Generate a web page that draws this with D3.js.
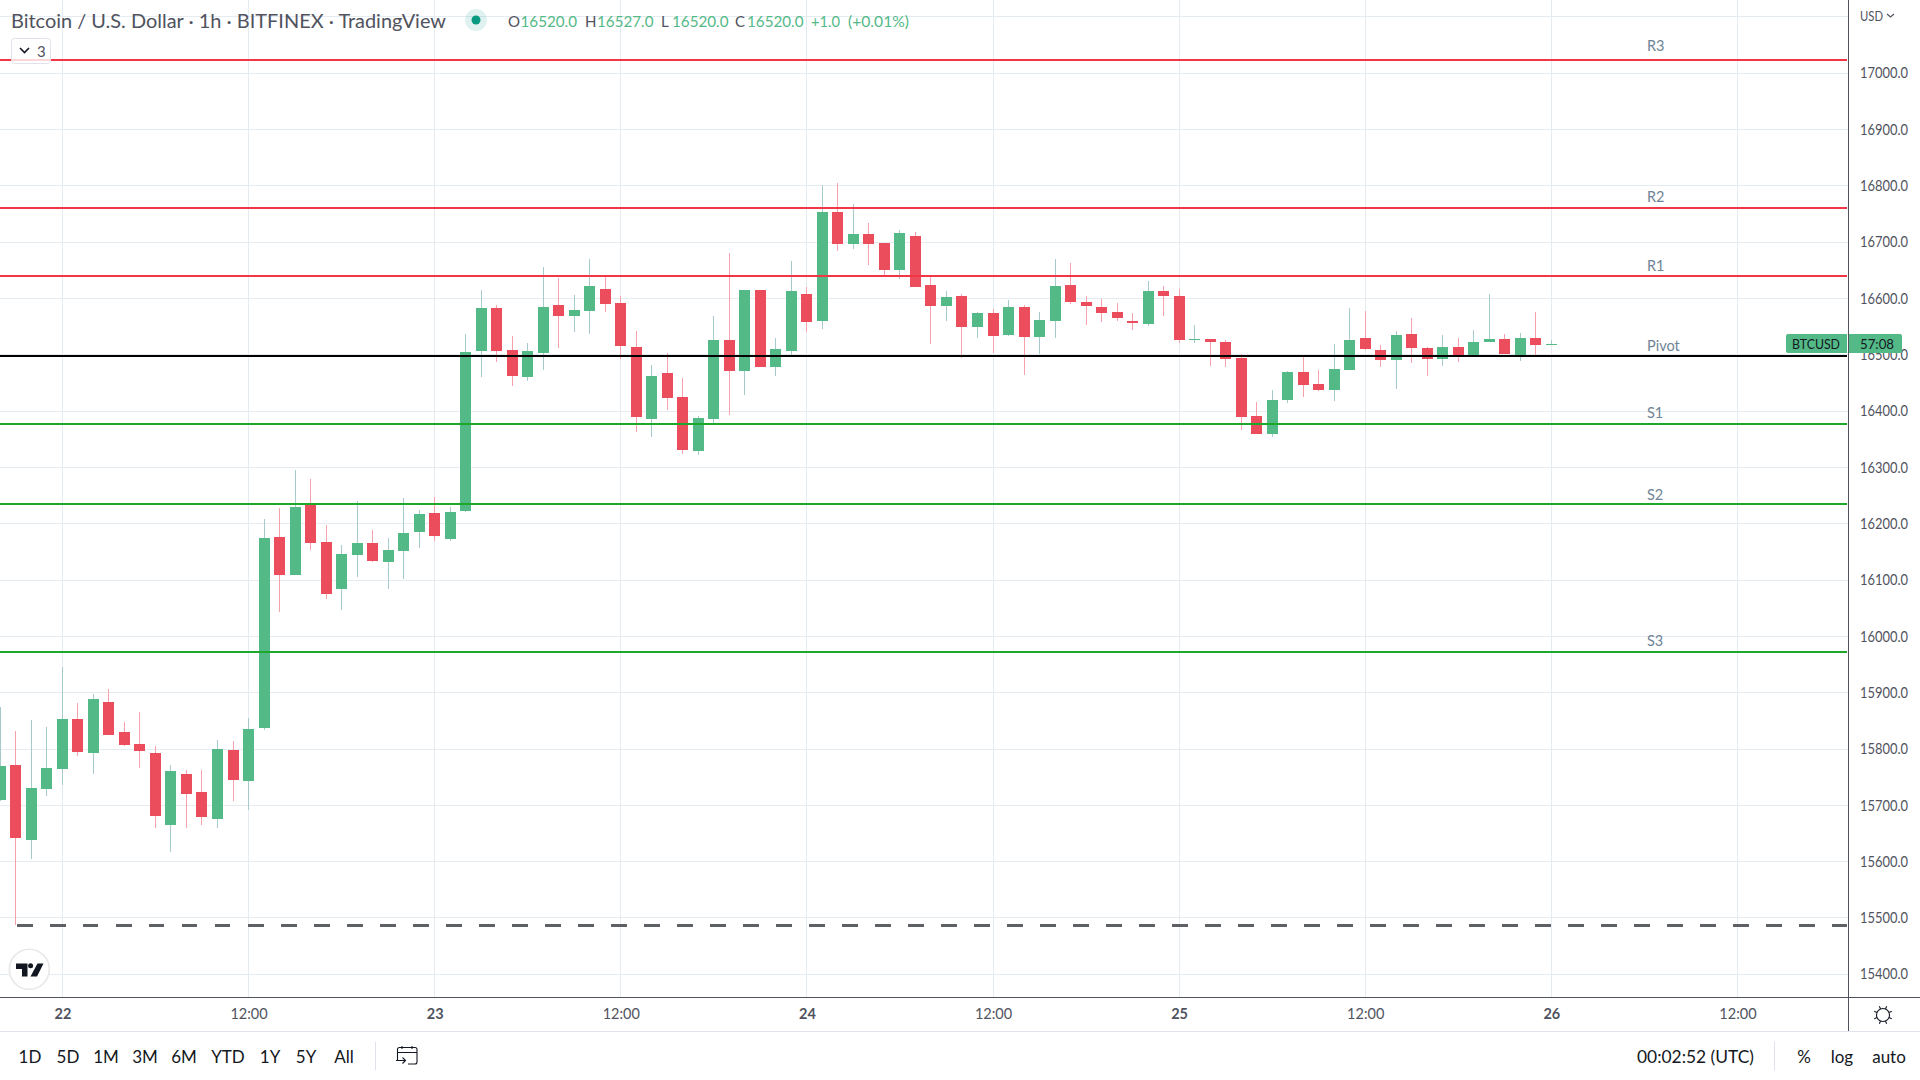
<!DOCTYPE html>
<html><head><meta charset="utf-8">
<script src="https://cdn.jsdelivr.net/npm/d3@7/dist/d3.min.js"></script>
<style>html,body{margin:0;padding:0;background:#fff;overflow:hidden}svg{display:block}text{font-family:"Lato","Noto Sans",sans-serif}</style>
</head><body><svg id="c" width="1920" height="1080"></svg>
<script>
const opens=[15709,15772,15638,15729,15765,15853,15793,15884,15830,15809,15793,15665,15756,15724,15676,15798,15743,15837,16177,16109,16235,16168,16084,16145,16166,16132,16152,16185,16219,16173,16223,16507,16583,16509,16461,16503,16589,16569,16578,16617,16592,16514,16386,16468,16425,16329,16386,16526,16471,16615,16478,16507,16608,16560,16754,16697,16715,16699,16651,16711,16624,16587,16604,16549,16574,16535,16585,16532,16560,16624,16594,16585,16576,16560,16555,16613,16604,16526,16528,16523,16494,16391,16359,16420,16469,16448,16437,16473,16530,16509,16491,16537,16512,16493,16514,16498,16523,16528,16498,16530,16520];
const highs=[15875,15832,15851,15839,15946,15882,15898,15907,15848,15866,15805,15772,15763,15763,15816,15814,15855,16209,16228,16296,16280,16198,16162,16240,16189,16175,16246,16224,16248,16230,16537,16615,16589,16533,16521,16656,16636,16606,16670,16642,16604,16542,16482,16503,16459,16391,16569,16680,16615,16615,16530,16667,16620,16802,16805,16768,16734,16699,16722,16718,16640,16613,16608,16576,16581,16597,16588,16576,16670,16663,16604,16599,16592,16574,16631,16622,16617,16553,16528,16526,16501,16416,16437,16471,16496,16473,16519,16583,16578,16517,16542,16565,16514,16535,16530,16544,16608,16537,16539,16576,16527];
const lows=[15708,15488,15605,15717,15736,15788,15756,15825,15805,15766,15660,15617,15660,15665,15660,15708,15692,15834,16043,16109,16153,16066,16047,16106,16132,16084,16102,16157,16169,16169,16221,16461,16487,16445,16454,16473,16512,16541,16537,16576,16493,16363,16354,16402,16324,16322,16377,16393,16429,16478,16462,16500,16541,16546,16684,16688,16660,16642,16635,16620,16519,16560,16494,16530,16503,16533,16464,16501,16530,16590,16553,16558,16560,16544,16551,16569,16521,16521,16480,16478,16366,16359,16354,16414,16425,16436,16418,16473,16509,16478,16439,16485,16462,16480,16487,16498,16523,16501,16489,16498,16520];
const closes=[15770,15642,15731,15766,15853,15795,15889,15825,15807,15797,15681,15761,15720,15679,15800,15745,15836,16175,16109,16230,16166,16075,16146,16166,16134,16153,16184,16217,16178,16221,16505,16583,16507,16462,16507,16585,16569,16580,16622,16590,16516,16390,16462,16423,16331,16388,16526,16471,16615,16478,16510,16613,16558,16754,16697,16715,16697,16651,16716,16620,16587,16603,16549,16574,16533,16585,16532,16562,16622,16594,16587,16574,16565,16557,16613,16604,16526,16528,16523,16493,16390,16359,16420,16469,16446,16437,16475,16526,16510,16491,16535,16512,16493,16514,16498,16523,16528,16501,16530,16517,16520];
const levelNames=["R3","R2","R1","Pivot","S1","S2","S3"];
const levelValues=[17024,16761,16640,16498.5,16378,16235.5,15973];
const levelColors=["#f23645","#f23645","#f23645","#000000","#1ca82a","#1ca82a","#1ca82a"];
const lowValue=15487;
const priceTicks=[15400,15500,15600,15700,15800,15900,16000,16100,16200,16300,16400,16500,16600,16700,16800,16900,17000];
const gridOnlyTicks=[17100];
const timeLabels=["22","12:00","23","12:00","24","12:00","25","12:00","26","12:00"];
const rangeButtons=["1D","5D","1M","3M","6M","YTD","1Y","5Y","All"];
const firstCandle=new Date(Date.UTC(2022,10,21,20));
const firstTick=new Date(Date.UTC(2022,10,22,0));

const svg=d3.select("#c");
const W=1920,plotR=1848,plotB=997;
const y=d3.scaleLinear().domain([15400,17000]).range([974.3,73.3]);
const x=d3.scaleUtc().domain([firstTick,new Date(Date.UTC(2022,10,26,12))]).range([62.4,1737.48]);
const tickDates=timeLabels.map((_,i)=>d3.utcHour.offset(firstTick,i*12));

function txt(px,py,s,o={}){const t=svg.append("text").attr("x",px).attr("y",py).attr("dominant-baseline","central")
 .attr("font-size",o.size||14).attr("fill",o.fill||"#50535e").attr("text-anchor",o.anchor||"start").text(s);
 if(o.weight)t.attr("font-weight",o.weight);
 if(o.len)t.attr("textLength",o.len).attr("lengthAdjust","spacingAndGlyphs");return t;}

// grid
const gridY=svg.append("g").attr("transform",`translate(${plotR},0)`).call(d3.axisLeft(y).offset(0).tickValues(priceTicks.concat(gridOnlyTicks)).tickSize(plotR).tickFormat(""));
gridY.select(".domain").remove();
const gridX=svg.append("g").attr("transform",`translate(0,${plotB})`).call(d3.axisTop(x).offset(0).tickValues(tickDates).tickSize(plotB).tickFormat(""));
gridX.select(".domain").remove();
svg.selectAll("g line").attr("stroke","#e4ecf2").attr("shape-rendering","crispEdges");

// candles
const candles=opens.map((o,i)=>({t:d3.utcHour.offset(firstCandle,i),o,h:highs[i],l:lows[i],c:closes[i]}));
const bx=d=>Math.round(x(d.t)-5.5);
const gC=svg.append("g").attr("shape-rendering","crispEdges");
gC.selectAll("rect.w").data(candles).join("rect").attr("class","w")
 .attr("x",d=>bx(d)+5).attr("width",1).attr("y",d=>Math.round(y(d.h))).attr("height",d=>Math.max(1,Math.round(y(d.l))-Math.round(y(d.h))))
 .attr("fill",d=>d.c>=d.o?"#a5cbcc":"#f7a1ac");
gC.selectAll("rect.b").data(candles).join("rect").attr("class","b")
 .attr("x",bx).attr("width",11).attr("y",d=>Math.round(y(Math.max(d.o,d.c))))
 .attr("height",d=>Math.max(1,Math.round(y(Math.min(d.o,d.c)))-Math.round(y(Math.max(d.o,d.c)))))
 .attr("fill",d=>d.c>=d.o?"#53b987":"#eb4d5c");

// level lines
svg.append("g").selectAll("line").data(levelValues).join("line")
 .attr("x1",0).attr("x2",plotR-1).attr("y1",d=>Math.round(y(d))).attr("y2",d=>Math.round(y(d)))
 .attr("stroke",(d,i)=>levelColors[i]).attr("stroke-width",2).attr("shape-rendering","crispEdges");
const labelGap={R3:14,Pivot:10,S2:9};
levelNames.forEach((n,i)=>txt(1647,y(levelValues[i])-(labelGap[n]||11),n,{size:14.5,fill:"#6f8496"}));
svg.append("line").attr("x1",17).attr("x2",plotR-1).attr("y1",Math.floor(y(lowValue))+.5).attr("y2",Math.floor(y(lowValue))+.5)
 .attr("stroke","#5d6064").attr("stroke-width",3).attr("stroke-dasharray","15.5 17.5").attr("shape-rendering","crispEdges");

// axes
const axY=svg.append("g").attr("transform",`translate(${plotR},0)`).call(d3.axisRight(y).tickValues(priceTicks).tickSize(0).tickPadding(12).tickFormat(d3.format(".1f")));
axY.select(".domain").remove();
axY.selectAll("text").attr("font-size",14.5).attr("fill","#50535e").attr("font-family",'"Lato"').attr("dy",".32em").attr("textLength",48).attr("lengthAdjust","spacingAndGlyphs");
const axX=svg.append("g").attr("transform",`translate(0,${plotB})`).call(d3.axisBottom(x).tickValues(tickDates).tickSize(0).tickPadding(12).tickFormat((d,i)=>timeLabels[i]));
axX.select(".domain").remove();
axX.selectAll("text").attr("font-size",14.5).attr("font-family",'"Lato"').attr("fill","#50535e").attr("font-weight",(d,i)=>i%2===0&&i<9?700:400);

const ln=(x1,y1,x2,y2,c,w=1)=>svg.append("line").attr("x1",x1).attr("y1",y1).attr("x2",x2).attr("y2",y2).attr("stroke",c).attr("stroke-width",w).attr("shape-rendering","crispEdges");
ln(0,997.5,W,997.5,"#50535e");
ln(1848.5,0,1848.5,1031,"#50535e");
ln(0,1031.5,W,1031.5,"#e0e3eb");
ln(375.5,1042,375.5,1070,"#e0e3eb");
ln(1774.5,1042,1774.5,1070,"#e0e3eb");

// price tag
svg.append("path").attr("d","M1847 334H1788a2 2 0 0 0-2 2V351a2 2 0 0 0 2 2H1847Z").attr("fill","#53b987");
svg.append("path").attr("d","M1849 334H1900a2 2 0 0 1 2 2V351a2 2 0 0 1-2 2H1849Z").attr("fill","#53b987");
txt(1816,343.5,"BTCUSD",{size:14,fill:"#131722",anchor:"middle",len:48});
txt(1877,343.5,"57:08",{size:14,fill:"#131722",anchor:"middle",len:34});

// legend
txt(11,21,"Bitcoin / U.S. Dollar · 1h · BITFINEX · TradingView",{size:18.5,fill:"#50535e",len:435});
svg.append("circle").attr("cx",476).attr("cy",20).attr("r",11).attr("fill","#089981").attr("opacity",.13);
svg.append("circle").attr("cx",476).attr("cy",20).attr("r",4.5).attr("fill","#089981");
[[508,"O"],[585,"H"],[661,"L"],[735,"C"]].forEach(a=>txt(a[0],21,a[1],{size:15,fill:"#50535e"}));
[[520.5,"16520.0"],[597,"16527.0"],[672,"16520.0"],[747,"16520.0"]].forEach(a=>txt(a[0],21,a[1],{size:15,fill:"#53b987",len:56.5}));
txt(811,21,"+1.0",{size:15,fill:"#53b987",len:29});
txt(848,21,"(+0.01%)",{size:15,fill:"#53b987",len:61});
svg.append("rect").attr("x",11.5).attr("y",38.5).attr("width",39).attr("height",25).attr("rx",3).attr("fill","#fff").attr("fill-opacity",.8).attr("stroke","#e0e3eb");
svg.append("path").attr("d","M20 48l4.5 4.5 4.5-4.5").attr("fill","none").attr("stroke","#131722").attr("stroke-width",1.6);
txt(37,50.5,"3",{size:15,fill:"#50535e"});

// USD
txt(1860,16,"USD",{size:13.5,fill:"#50535e",len:23});
svg.append("path").attr("d","M1887 14l3.5 3 3.5-3").attr("fill","none").attr("stroke","#50535e").attr("stroke-width",1.2);

// gear
const gear=svg.append("g").attr("transform","translate(1883,1015)").attr("fill","none").attr("stroke","#131722").attr("stroke-width",1.1);
gear.append("circle").attr("r",6.5);
d3.range(8).forEach(i=>{const a=i*Math.PI/4+Math.PI/8;gear.append("line").attr("x1",6.5*Math.cos(a)).attr("y1",6.5*Math.sin(a)).attr("x2",9.5*Math.cos(a)).attr("y2",9.5*Math.sin(a));});

// logo
svg.append("circle").attr("cx",29.3).attr("cy",969.3).attr("r",20).attr("fill","#fff").attr("stroke","#e8e8e8").attr("stroke-width",1.6);
svg.append("path").attr("d","M16 963.5H27.5V976.5H22V969H16Z").attr("fill","#131722");
svg.append("circle").attr("cx",30.6).attr("cy",965.8).attr("r",2.5).attr("fill","#131722");
svg.append("path").attr("d","M37.5 963.5H43.5L37 976.5H30.5Z").attr("fill","#131722");

// toolbar
const btnX=[30,68,106,145,184,228,270,306,344];
rangeButtons.forEach((b,i)=>txt(btnX[i],1056,b,{size:17,fill:"#131722",anchor:"middle"}));
const cal=svg.append("g").attr("fill","none").attr("stroke","#131722").attr("stroke-width",1.1);
cal.append("path").attr("d","M397.5 1060V1049.5a2 2 0 0 1 2-2H415a2 2 0 0 1 2 2V1062a2 2 0 0 1-2 2H408M397.5 1052.5H417M402 1046V1049M412 1046V1049M396 1060.5H405M402.5 1057.5l3 3-3 3");
txt(1637,1056,"00:02:52 (UTC)",{size:17,fill:"#131722",len:117});
txt(1804,1056,"%",{size:17,fill:"#131722",anchor:"middle"});
txt(1842,1056,"log",{size:17,fill:"#131722",anchor:"middle"});
txt(1889,1056,"auto",{size:17,fill:"#131722",anchor:"middle"});
</script></body></html>
